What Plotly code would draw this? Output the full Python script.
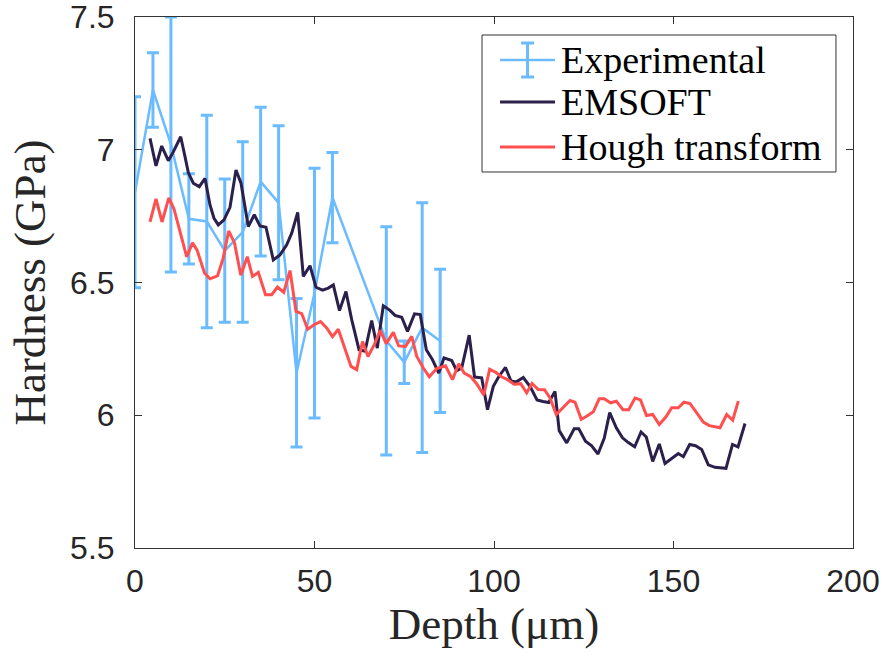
import plotly.graph_objects as go

# Experimental
exp_depth = [0, 5, 10, 15, 20, 25, 30, 35, 40, 45, 50, 55, 70, 75, 80, 85]
exp_hard = [6.84, 7.225, 7.02, 6.74, 6.73, 6.62, 6.69, 6.88, 6.80, 6.16, 6.46, 6.82, 6.28, 6.20, 6.33, 6.28]
exp_err = [0.36, 0.14, 0.48, 0.17, 0.40, 0.27, 0.34, 0.28, 0.29, 0.28, 0.47, 0.17, 0.43, 0.08, 0.47, 0.27]

# EMSOFT
ems_depth = [4.18, 5.85, 7.44, 9.28, 10.67, 12.73, 13.93, 14.85, 16.24, 17.91, 19.50, 20.89, 22.01, 23.20,
             24.79, 26.46, 28.13, 29.53, 31.56, 33.23, 34.82, 36.49, 38.52, 40.39, 42.26, 43.65, 45.32,
             46.88, 48.75, 50.42, 52.23, 53.84, 55.24, 56.96, 58.77, 60.36, 62.40, 64.07, 65.93, 67.49,
             69.16, 71.03, 72.42, 74.29, 75.91, 77.86, 79.47, 81.14, 82.87, 84.62, 86.07, 88.22, 89.61,
             91.00, 93.09, 94.57, 96.57, 98.19, 99.81, 101.39, 103.20, 104.74, 106.13, 108.16, 110.11,
             111.98, 113.65, 115.26, 116.99, 118.16, 120.25, 122.34, 123.62, 125.49, 127.21, 128.97,
             130.70, 132.23, 134.07, 135.79, 137.41, 139.19, 140.95, 142.42, 144.21, 146.04, 147.63,
             149.39, 151.34, 152.73, 154.51, 156.13, 157.85, 159.69, 161.56, 162.95, 164.62, 166.43,
             167.97, 169.92]
ems_hard = [7.043, 6.939, 7.014, 6.959, 6.992, 7.049, 6.974, 6.914, 6.874, 6.861, 6.892, 6.792, 6.742, 6.717,
            6.736, 6.783, 6.924, 6.874, 6.711, 6.755, 6.713, 6.708, 6.585, 6.604, 6.642, 6.686, 6.764,
            6.523, 6.563, 6.482, 6.471, 6.479, 6.491, 6.394, 6.466, 6.360, 6.247, 6.241, 6.357, 6.253,
            6.412, 6.395, 6.376, 6.369, 6.316, 6.382, 6.379, 6.247, 6.209, 6.159, 6.216, 6.206, 6.168,
            6.178, 6.302, 6.144, 6.141, 6.021, 6.109, 6.147, 6.180, 6.129, 6.125, 6.142, 6.107,
            6.058, 6.052, 6.048, 6.090, 5.942, 5.896, 5.949, 5.949, 5.902, 5.885, 5.854,
            5.913, 6.010, 5.953, 5.915, 5.897, 5.881, 5.937, 5.918, 5.826, 5.892, 5.818,
            5.835, 5.856, 5.844, 5.890, 5.885, 5.871, 5.813, 5.804, 5.802, 5.800, 5.890,
            5.881, 5.969]

# Hough transform
hough_depth = [4.18, 5.85, 7.52, 9.42, 10.86, 12.53, 14.40, 16.02, 17.27, 19.36, 20.89, 22.98, 24.51, 26.10,
               27.72, 29.47, 31.28, 32.73, 34.35, 36.35, 38.08, 39.69, 41.42, 43.18, 44.85, 46.43, 48.13,
               49.86, 51.67, 53.40, 55.01, 56.63, 58.50, 60.17, 61.75, 63.37, 64.90, 66.66, 68.33, 69.97,
               71.95, 73.45, 75.35, 77.08, 78.47, 80.31, 81.98, 84.04, 86.49, 88.44, 90.19, 91.70, 93.54,
               95.26, 97.13, 98.80, 100.56, 102.09, 103.76, 105.57, 107.44, 109.11, 110.58, 112.34, 114.07,
               115.60, 117.35, 119.30, 121.17, 122.56, 124.32, 126.04, 127.66, 129.30, 130.70, 132.45,
               134.07, 135.93, 137.52, 139.28, 140.81, 142.48, 144.21, 146.04, 147.91, 149.50, 151.34,
               152.92, 154.60, 156.63, 158.30, 159.97, 161.56, 162.95, 164.82, 166.49, 168.05]
hough_hard = [6.728, 6.815, 6.728, 6.819, 6.777, 6.687, 6.597, 6.649, 6.623, 6.536, 6.514, 6.525, 6.589, 6.694,
              6.649, 6.527, 6.597, 6.523, 6.538, 6.454, 6.454, 6.483, 6.463, 6.545, 6.391, 6.383, 6.324,
              6.341, 6.353, 6.329, 6.296, 6.324, 6.247, 6.184, 6.172, 6.278, 6.221, 6.266, 6.320, 6.270,
              6.312, 6.261, 6.259, 6.297, 6.222, 6.178, 6.145, 6.176, 6.186, 6.134, 6.194, 6.159, 6.145,
              6.117, 6.076, 6.173, 6.161, 6.145, 6.134, 6.117, 6.119, 6.084, 6.120, 6.097, 6.096,
              6.065, 6.003, 6.031, 6.056, 6.049, 5.985, 5.998, 6.013, 6.062, 6.062, 6.047,
              6.053, 6.021, 6.021, 6.065, 6.058, 5.999, 6.003, 5.965, 5.994, 6.028, 6.028,
              6.049, 6.044, 6.006, 5.974, 5.961, 5.956, 5.953, 6.003, 5.981, 6.053]

series_names = ["Experimental", "EMSOFT", "Hough transform"]
series_colors = ["#6BBBFF", "#2B1F4B", "#FF4F4F"]
x_ticks = [0, 50, 100, 150, 200]
y_ticks = [5.5, 6, 6.5, 7, 7.5]
y_ticktext = ["5.5", "6", "6.5", "7", "7.5"]

SERIF = "Liberation Serif, DejaVu Serif, serif"
SANS = "Liberation Sans, Arial, sans-serif"
FRAME = "#333333"

fig = go.Figure()
fig.add_trace(go.Scatter(
    x=exp_depth, y=exp_hard, mode="lines", name=series_names[0], showlegend=False,
    line=dict(color=series_colors[0], width=2.5),
    error_y=dict(type="data", array=exp_err, visible=True, color=series_colors[0], thickness=3, width=6),
))
fig.add_trace(go.Scatter(
    x=ems_depth, y=ems_hard, mode="lines", name=series_names[1], showlegend=False,
    line=dict(color=series_colors[1], width=3),
))
fig.add_trace(go.Scatter(
    x=hough_depth, y=hough_hard, mode="lines", name=series_names[2], showlegend=False,
    line=dict(color=series_colors[2], width=3),
))

axis_common = dict(
    showgrid=False, zeroline=False, showline=True, mirror="allticks", automargin=False,
    linecolor=FRAME, linewidth=1, ticks="inside", ticklen=7, tickcolor=FRAME,
    tickfont=dict(family=SANS, size=32, color="#262626"), ticklabeloverflow="allow",
)
fig.update_xaxes(range=[0, 200], tickvals=x_ticks, ticklabelstandoff=5,
                 title=dict(text="Depth (μm)", font=dict(family=SERIF, size=45, color="#262626"), standoff=6),
                 **axis_common)
fig.update_yaxes(range=[5.5, 7.5], tickvals=y_ticks, ticktext=y_ticktext,
                 ticklabelstandoff=13,
                 title=dict(text="Hardness (GPa)", font=dict(family=SERIF, size=45, color="#262626"), standoff=10),
                 **axis_common)

# Manual legend (MATLAB style), in paper coordinates
L_X0, L_X1, L_Y0, L_Y1 = 0.4833, 0.9763, 0.7081, 0.9661
row_y = [0.9190, 0.8399, 0.7552]
s_x0, s_x1 = 0.5084, 0.5850
s_xc = (s_x0 + s_x1) / 2
shapes = [dict(type="rect", xref="paper", yref="paper", x0=L_X0, x1=L_X1, y0=L_Y0, y1=L_Y1,
               line=dict(color=FRAME, width=1), fillcolor="white", layer="above")]
annotations = []
for i, (nm, col) in enumerate(zip(series_names, series_colors)):
    yy = row_y[i]
    shapes.append(dict(type="line", xref="paper", yref="paper", x0=s_x0, x1=s_x1, y0=yy, y1=yy,
                       line=dict(color=col, width=3 if i else 2.5), layer="above"))
    if i == 0:
        eh = 0.032
        cw = 0.009
        shapes.append(dict(type="line", xref="paper", yref="paper", x0=s_xc, x1=s_xc, y0=yy - eh, y1=yy + eh,
                           line=dict(color=col, width=3), layer="above"))
        for yc in (yy - eh, yy + eh):
            shapes.append(dict(type="line", xref="paper", yref="paper", x0=s_xc - cw, x1=s_xc + cw, y0=yc, y1=yc,
                               line=dict(color=col, width=3), layer="above"))
    annotations.append(dict(xref="paper", yref="paper", x=0.5905, y=yy, text=nm, showarrow=False,
                            xanchor="left", yanchor="middle",
                            font=dict(family=SERIF, size=38, color="#000000")))

fig.update_layout(
    width=889, height=664,
    margin=dict(l=135, r=36, t=17, b=116),
    paper_bgcolor="white", plot_bgcolor="white",
    shapes=shapes, annotations=annotations,
    showlegend=False,
)

fig.write_html("out.html")
